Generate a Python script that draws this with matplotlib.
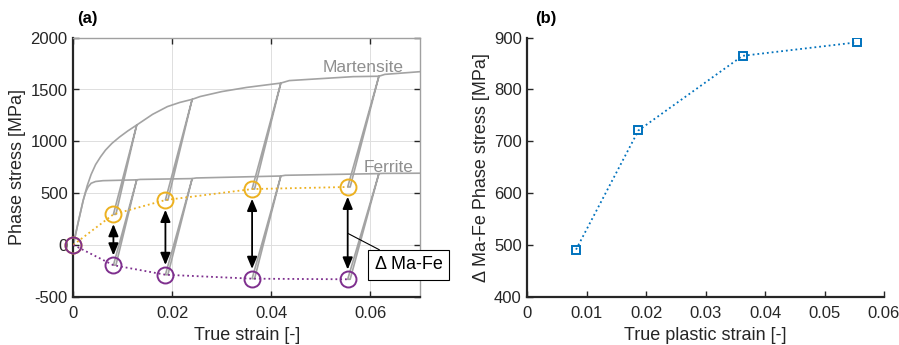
import numpy as np
import matplotlib
matplotlib.use('Agg')
from matplotlib import pyplot as plt

plt.rcParams['font.family'] = ['Liberation Sans', 'DejaVu Sans']
plt.rcParams['axes.unicode_minus'] = False

# phase stress envelopes (strain, MPa)
mart_eps = [0, 0.001, 0.002, 0.0028, 0.0036, 0.0045, 0.0055, 0.0065, 0.0078, 0.0093, 0.011, 0.0128,
            0.016, 0.019, 0.0215, 0.024, 0.0256, 0.03, 0.035, 0.0419,
            0.0436, 0.05, 0.0565, 0.0617, 0.0629, 0.07]
mart_sig = [0, 220, 430, 570, 680, 775, 850, 915, 980, 1040, 1100, 1157,
            1260, 1335, 1375, 1405, 1432, 1480, 1520, 1562,
            1586, 1605, 1624, 1628, 1646, 1672]
ferr_eps = [0, 0.001, 0.002, 0.0025, 0.003, 0.0036, 0.0045, 0.006, 0.0128,
            0.0135, 0.024, 0.0248, 0.0419, 0.0428, 0.0617, 0.0625, 0.07]
ferr_sig = [0, 220, 430, 510, 560, 595, 612, 620, 628,
            632, 640, 646, 665, 672, 688, 690, 692]

# unloading points and residual phase stresses after each unload
unload_eps = [0.0128, 0.024, 0.0419, 0.0617]
resid_eps = [0, 0.0081, 0.0186, 0.0361, 0.0554]
resid_mart = [0, 295, 433, 539, 559]
resid_ferr = [0, -196, -288, -326, -332]

# difference between phases vs plastic strain
plastic_eps = [0.0082, 0.0187, 0.0362, 0.0554]
delta_sig = [491, 721, 865, 891]

gray = '#a3a3a3'
dark = '#262626'
orange = '#EDB120'
purple = '#7E2F8E'
blue = '#0072BD'


def with_loops(eps, sig, tops, bottoms_x, bottoms_y):
    # insert unload/reload loops into the envelope
    xs, ys = [], []
    k = 0
    for e, s in zip(eps, sig):
        xs.append(e)
        ys.append(s)
        if k < len(tops) and abs(e - tops[k]) < 1e-9:
            bx, by = bottoms_x[k], bottoms_y[k]
            xs += [bx, bx + 0.0005, e]
            ys += [by, by, s]
            k += 1
    return xs, ys


fig = plt.figure(figsize=(8.99, 3.45), dpi=100)
ax1 = fig.add_axes([73.3/899, 1-296.7/345, 346.7/899, 259/345])
ax2 = fig.add_axes([527.3/899, 1-296.7/345, 356.7/899, 259/345])

mx, my = with_loops(mart_eps, mart_sig, unload_eps, resid_eps[1:], resid_mart[1:])
fx, fy = with_loops(ferr_eps, ferr_sig, unload_eps, resid_eps[1:], resid_ferr[1:])
ax1.plot(mx, my, color=gray, lw=1.2, zorder=2)
ax1.plot(fx, fy, color=gray, lw=1.2, zorder=2)

ax1.plot(resid_eps, resid_mart, ':', color=orange, lw=1.3, zorder=3)
ax1.plot(resid_eps, resid_ferr, ':', color=purple, lw=1.3, zorder=3)
ax1.plot(resid_eps, resid_mart, 'o', ms=11.5, mfc='none', mec=orange, mew=1.4,
         clip_on=False, zorder=4)
ax1.plot(resid_eps, resid_ferr, 'o', ms=11.5, mfc='none', mec=purple, mew=1.4,
         clip_on=False, zorder=5)

for e, a, b in zip(resid_eps[1:], resid_mart[1:], resid_ferr[1:]):
    ax1.annotate('', xy=(e, b), xytext=(e, a),
                 arrowprops=dict(arrowstyle='<|-|>,head_length=0.6,head_width=0.25',
                                 color='black', lw=1.3, mutation_scale=12,
                                 shrinkA=7, shrinkB=7), zorder=6)

ax1.annotate('Δ Ma-Fe', xy=(resid_eps[-1], 112), xytext=(0.0677, -194),
             fontsize=13, color='black', ha='center', va='center',
             annotation_clip=False,
             bbox=dict(boxstyle='square,pad=0.35', fc='white', ec='black', lw=0.8),
             arrowprops=dict(arrowstyle='-', color='black', lw=0.8,
                             shrinkA=0, shrinkB=0), zorder=7)

ax1.text(0.0585, 1710, 'Martensite', color='#8f8f8f', fontsize=12.5, ha='center', va='center')
ax1.text(0.0637, 745, 'Ferrite', color='#8f8f8f', fontsize=12.5, ha='center', va='center')

ax1.set_xlim(0, 0.07)
ax1.set_ylim(-500, 2000)
ax1.set_xticks([0, 0.02, 0.04, 0.06])
ax1.set_xticklabels(['0', '0.02', '0.04', '0.06'])
ax1.set_yticks(np.arange(-500, 2001, 500))
ax1.grid(True, color='#dedede', lw=0.7, zorder=0)
ax1.set_axisbelow(True)
ax1.set_xlabel('True strain [-]', fontsize=13, color=dark, labelpad=4)
ax1.set_ylabel('Phase stress [MPa]', fontsize=13, color=dark, labelpad=3)
ax1.tick_params(direction='in', labelsize=12, colors=dark, length=4, width=1,
                top=True, right=True, pad=4)
ax1.tick_params(axis='x', pad=7)
for side in ['left', 'bottom']:
    ax1.spines[side].set_linewidth(1.6)
    ax1.spines[side].set_color(dark)
for side in ['top', 'right']:
    ax1.spines[side].set_linewidth(1.0)
    ax1.spines[side].set_color('#a0a0a0')

ax2.plot(plastic_eps, delta_sig, ':', color=blue, lw=1.3, marker='s', ms=5.5,
         mfc='none', mec=blue, mew=1.4)
ax2.set_xlim(0, 0.06)
ax2.set_ylim(400, 900)
ax2.set_xticks(np.arange(0, 0.061, 0.01))
ax2.set_xticklabels(['0', '0.01', '0.02', '0.03', '0.04', '0.05', '0.06'])
ax2.set_yticks(np.arange(400, 901, 100))
ax2.set_xlabel('True plastic strain [-]', fontsize=13, color=dark, labelpad=4)
ax2.set_ylabel('Δ Ma-Fe Phase stress [MPa]', fontsize=13, color=dark, labelpad=3)
ax2.tick_params(direction='in', labelsize=12, colors=dark, length=4, width=1, pad=4)
ax2.tick_params(axis='x', pad=7)
for side in ['top', 'right']:
    ax2.spines[side].set_visible(False)
for side in ['left', 'bottom']:
    ax2.spines[side].set_linewidth(1.6)
    ax2.spines[side].set_color(dark)

fig.text(87/899, 1-18/345, '(a)', fontsize=12, fontweight='bold', ha='center', va='center')
fig.text(546/899, 1-18/345, '(b)', fontsize=12, fontweight='bold', ha='center', va='center')

fig.savefig('out.png', dpi=100)
